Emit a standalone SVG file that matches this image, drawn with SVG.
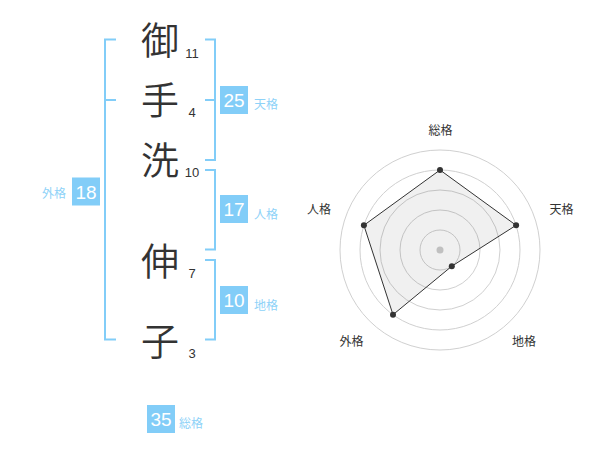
<svg xmlns="http://www.w3.org/2000/svg" width="600" height="470" viewBox="0 0 600 470">
<style>
.kanji{font-family:"Noto Sans CJK JP","Noto Sans CJK SC",sans-serif;font-size:38px;font-weight:350;fill:#333;text-anchor:middle}
.num{font-family:"Liberation Sans",Arial,sans-serif;font-size:13px;fill:#333;text-anchor:middle}
.br{fill:none;stroke:#82cdf8;stroke-width:2}
.box{fill:#82cdf8}
.bnum{font-family:"Liberation Sans",Arial,sans-serif;font-size:19px;fill:#fff;text-anchor:middle}
.lbl{font-family:"Noto Sans CJK JP","Noto Sans CJK SC",sans-serif;font-size:12px;fill:#8ed2f8}
.ring{fill:none;stroke:#d0d0d0;stroke-width:1}
.rl{font-family:"Noto Sans CJK JP","Noto Sans CJK SC",sans-serif;font-size:12px;fill:#333;text-anchor:middle}
.dot{fill:#333}
</style>
<rect width="600" height="470" fill="#fff"/>
<g id="connectors">
<path class="br" d="M116,39.5 H105 V339.5 H116 M105,100 H116"/>
<path class="br" d="M205,39.5 H215 V160 H205 M215,100 H205"/>
<path class="br" d="M205,170 H215 V249.5 H205"/>
<path class="br" d="M205,260 H215 V339.5 H205"/>
</g>
<g id="char1"><text class="kanji" x="160" y="54">御</text><text class="num" x="192" y="57.5">11</text></g>
<g id="char2"><text class="kanji" x="160" y="114">手</text><text class="num" x="192" y="116.5">4</text></g>
<g id="char3"><text class="kanji" x="160" y="174">洗</text><text class="num" x="192" y="176.5">10</text></g>
<g id="char4"><text class="kanji" x="160" y="275">伸</text><text class="num" x="192" y="277.5">7</text></g>
<g id="char5"><text class="kanji" x="160" y="355">子</text><text class="num" x="192" y="357.5">3</text></g>
<g id="tenkaku"><rect class="box" x="220" y="86" width="28" height="28"/><text class="bnum" x="234" y="107">25</text><text class="lbl" x="254" y="108.5">天格</text></g>
<g id="jinkaku"><rect class="box" x="220" y="195" width="28" height="28"/><text class="bnum" x="234" y="216">17</text><text class="lbl" x="254" y="218.5">人格</text></g>
<g id="chikaku"><rect class="box" x="220" y="286" width="28" height="28"/><text class="bnum" x="234" y="307">10</text><text class="lbl" x="254" y="309.5">地格</text></g>
<g id="gaikaku"><rect class="box" x="72" y="177.5" width="28" height="28"/><text class="bnum" x="86" y="198.5">18</text><text class="lbl" x="66" y="197.5" text-anchor="end">外格</text></g>
<g id="soukaku"><rect class="box" x="147" y="405" width="28" height="28"/><text class="bnum" x="161" y="426">35</text><text class="lbl" x="179" y="427.5">総格</text></g>
<g id="radar">
<circle class="ring" cx="440" cy="250" r="20"/>
<circle class="ring" cx="440" cy="250" r="40"/>
<circle class="ring" cx="440" cy="250" r="60"/>
<circle class="ring" cx="440" cy="250" r="80"/>
<circle class="ring" cx="440" cy="250" r="100"/>
<circle cx="440" cy="250" r="3.5" fill="#ccc"/>
<polygon points="440,170 516.1,225.3 451.8,266.2 393,314.7 363.9,225.3" fill="#000" fill-opacity="0.06" stroke="#333" stroke-width="1"/>
<circle class="dot" cx="440" cy="170" r="3"/>
<circle class="dot" cx="516.1" cy="225.3" r="3"/>
<circle class="dot" cx="451.8" cy="266.2" r="3"/>
<circle class="dot" cx="393" cy="314.7" r="3"/>
<circle class="dot" cx="363.9" cy="225.3" r="3"/>
<text class="rl" x="440.5" y="135">総格</text>
<text class="rl" x="561.5" y="213.5">天格</text>
<text class="rl" x="524" y="346">地格</text>
<text class="rl" x="351.5" y="346">外格</text>
<text class="rl" x="319" y="213.5">人格</text>
</g>
</svg>
